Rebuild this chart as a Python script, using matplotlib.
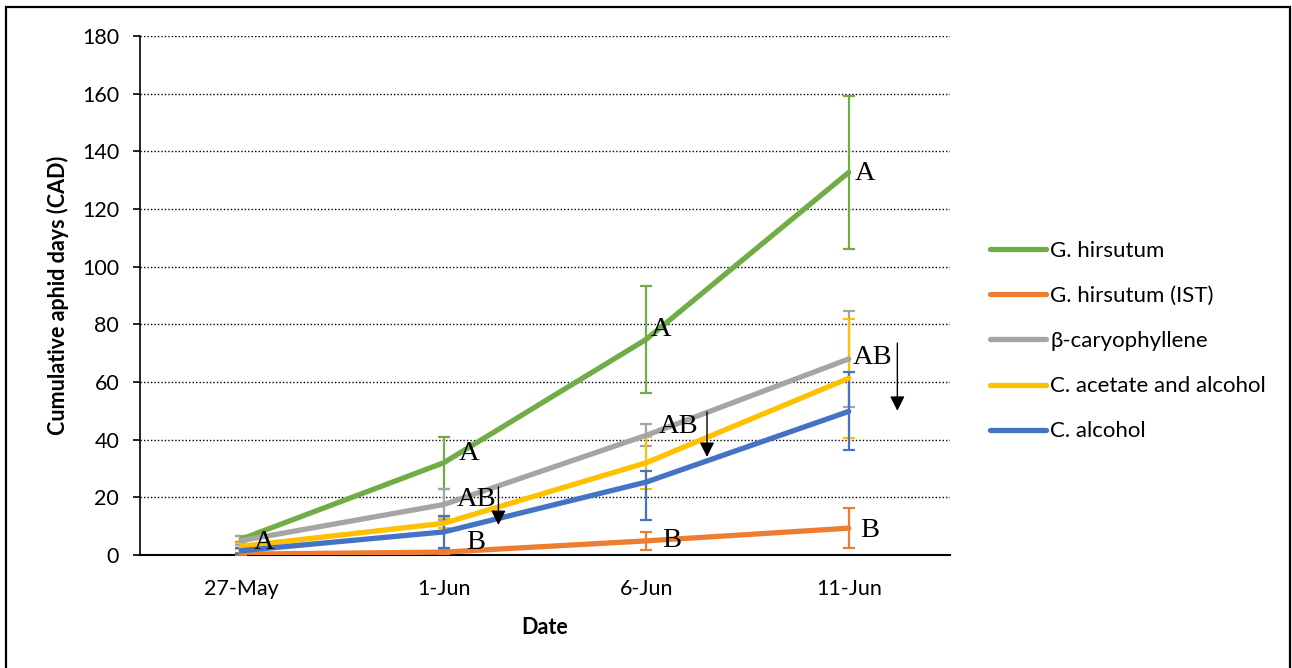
import matplotlib.pyplot as plt
import numpy as np
from matplotlib.patches import Rectangle

# sampling dates
dates = ['27-May', '1-Jun', '6-Jun', '11-Jun']

# cumulative aphid days per treatment
series_names = ['G. hirsutum', 'G. hirsutum (IST)', 'β-caryophyllene',
                'C. acetate and alcohol', 'C. alcohol']
g_hirsutum = [5.5, 32.0, 74.8, 132.7]
g_hirsutum_ist = [0.3, 1.0, 4.9, 9.3]
caryophyllene = [5.0, 17.5, 41.5, 68.0]
acetate_alcohol = [3.0, 11.0, 32.0, 61.3]
alcohol = [1.5, 8.0, 25.3, 49.8]

# error bar extents (below, above)
g_hirsutum_err = [[1.0, 9.0, 18.5, 26.5], [1.0, 9.0, 18.5, 26.5]]
g_hirsutum_ist_err = [[0.3, 0.8, 3.2, 6.9], [0.3, 0.8, 3.2, 6.9]]
caryophyllene_err = [[1.5, 5.5, 3.8, 16.5], [1.5, 5.5, 3.8, 16.5]]
acetate_alcohol_err = [[1.0, 1.8, 9.0, 20.6], [1.0, 1.8, 9.0, 20.6]]
alcohol_err = [[1.0, 5.6, 13.3, 13.5], [1.0, 5.6, 3.8, 13.5]]

colors = ['#70AD47', '#ED7D31', '#A5A5A5', '#FFC000', '#4472C4']

# significance letters: (date index, series index, text, dx px, dy px)
letters = [
    (0, 0, 'A', 12, 10),
    (1, 0, 'A', 15, -3),
    (1, 2, 'AB', 13, 1),
    (1, 1, 'B', 22, -3),
    (2, 0, 'A', 4, -3),
    (2, 2, 'AB', 12, -2),
    (2, 1, 'B', 16, 6),
    (3, 0, 'A', 6, 8),
    (3, 2, 'AB', 4, 5),
    (3, 1, 'B', 11, 9),
]

# down arrows next to the AB labels: (x position, y top, y bottom)
arrows = [(1.27, 23.6, 10.4), (2.30, 49.6, 34.0), (3.24, 73.5, 50.0)]

values = [g_hirsutum, g_hirsutum_ist, caryophyllene, acetate_alcohol, alcohol]
errors = [g_hirsutum_err, g_hirsutum_ist_err, caryophyllene_err,
          acetate_alcohol_err, alcohol_err]

plt.rcParams['font.family'] = ['Lato', 'DejaVu Sans']

W, H = 1292, 668
fig = plt.figure(figsize=(W / 100, H / 100), dpi=100)
ax = fig.add_axes([140 / W, 1 - 555 / H, 810 / W, 519 / H])

x = np.arange(len(dates))
for vals, err, col, name in zip(values, errors, colors, series_names):
    ax.errorbar(x, vals, yerr=np.array(err), color=col, lw=3.8,
                elinewidth=1.6, capsize=4.5, capthick=1.6,
                solid_capstyle='round', label=name, zorder=3)

for di, si, txt, dx, dy in letters:
    ax.annotate(txt, (x[di], values[si][di]), xytext=(dx, -dy),
                textcoords='offset pixels', ha='left', va='baseline',
                fontsize=20.5, family='Liberation Serif', zorder=5)

for ax_x, y0, y1 in arrows:
    ax.annotate('', xy=(ax_x, y1), xytext=(ax_x, y0),
                arrowprops=dict(arrowstyle='-|>', color='black', lw=1.0,
                                mutation_scale=22, shrinkA=0, shrinkB=0),
                zorder=5)

ax.set_xlim(-0.5, 3.5)
ax.set_ylim(0, 180)
ax.set_yticks(np.arange(0, 181, 20))
ax.set_xticks(x)
ax.set_xticklabels(dates)
ax.tick_params(axis='y', length=5, width=1.2, pad=10, labelsize=15.5)
ax.tick_params(axis='x', length=0, pad=17, labelsize=15.5)
ax.yaxis.grid(True, linestyle=(0, (1, 1.5)), color='black', lw=1.0)
ax.set_axisbelow(True)
for s in ['top', 'right']:
    ax.spines[s].set_visible(False)
ax.spines['left'].set_linewidth(1.2)
ax.spines['bottom'].set_linewidth(1.5)

ax.set_xlabel('Date', fontsize=15.5, fontweight='bold', labelpad=13.5)
ax.set_ylabel('Cumulative aphid days (CAD)', fontsize=15.5, fontweight='bold',
              labelpad=9)

handles = [plt.Line2D([], [], color=c, lw=3.8, solid_capstyle='round')
           for c in colors]
fig.legend(handles, series_names, loc='upper left',
           bbox_to_anchor=(970 / W, 1 - 221 / H), frameon=False,
           fontsize=16, handlelength=2.5, handletextpad=0.2,
           labelspacing=1.13)

# outer border
fig.patches.append(Rectangle((6 / W, -0.05), 1284 / W, 1.05 - 7 / H,
                             transform=fig.transFigure, fill=False,
                             edgecolor='black', lw=1.6))

fig.savefig('out.png', dpi=100)
